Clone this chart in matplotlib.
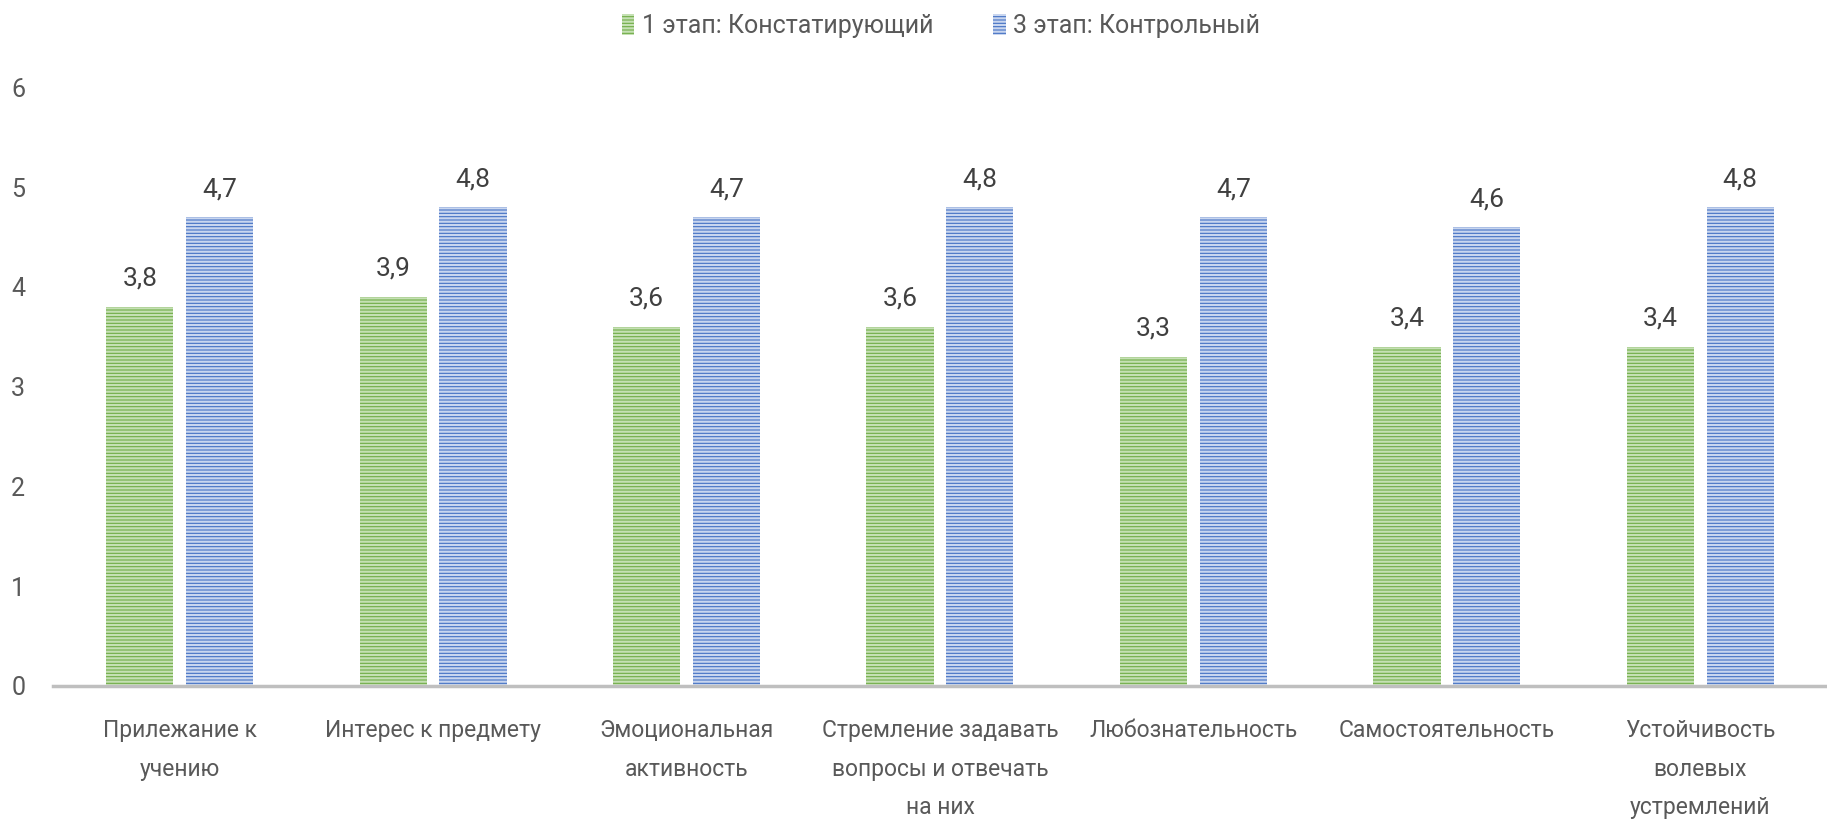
import matplotlib
matplotlib.use("Agg")
import matplotlib.pyplot as plt
import numpy as np

categories = ["Прилежание к\nучению", "Интерес к предмету", "Эмоциональная\nактивность",
              "Стремление задавать\nвопросы и отвечать\nна них", "Любознательность",
              "Самостоятельность", "Устойчивость\nволевых\nустремлений"]
stage1 = [3.8, 3.9, 3.6, 3.6, 3.3, 3.4, 3.4]
stage3 = [4.7, 4.8, 4.7, 4.8, 4.7, 4.6, 4.8]
series_names = ["1 этап: Констатирующий", "3 этап: Контрольный"]
yticks = [0, 1, 2, 3, 4, 5, 6]

plt.rcParams['font.family'] = ['Roboto', 'DejaVu Sans']
plt.rcParams['hatch.linewidth'] = 1.6

fig = plt.figure(figsize=(18.27, 8.24), dpi=100)
ax = fig.add_axes([0.029, 0.1675, 0.971, 0.7265])

x = np.arange(len(categories))
w = 0.265
gap = 0.05
off = (w + gap) / 2
txt = '#595959'

b1 = ax.bar(x - off, stage1, w, color='#70ad47', edgecolor='#c5e0b4', hatch='-----', linewidth=0,
            label=series_names[0])
b2 = ax.bar(x + off, stage3, w, color='#4472c4', edgecolor='#c9d6ef', hatch='-----', linewidth=0,
            label=series_names[1])

for bars in (b1, b2):
    for r in bars:
        h = r.get_height()
        ax.text(r.get_x() + r.get_width() / 2, h + 0.16, f"{h:.1f}".replace('.', ','),
                ha='center', va='bottom', fontsize=19, color='#404040')

ax.set_xlim(-0.5, len(categories) - 0.5)
ax.set_ylim(0, 6)
ax.set_yticks(yticks)
ax.set_yticklabels([str(t) for t in yticks], fontsize=18, color=txt)
ax.set_xticks(x)
ax.set_xticklabels(categories, fontsize=16.5, color=txt, linespacing=1.85)
ax.tick_params(axis='both', length=0)
ax.tick_params(axis='x', pad=24)
ax.tick_params(axis='y', pad=20)
for s in ['top', 'right', 'left']:
    ax.spines[s].set_visible(False)
ax.spines['bottom'].set_color('#bfbfbf')
ax.spines['bottom'].set_linewidth(2.5)

fig.legend(handles=[b1, b2], loc='center', bbox_to_anchor=(0.515, 0.968), ncol=2, frameon=False,
           fontsize=18, labelcolor=txt, handlelength=0.5, handleheight=0.9, handletextpad=0.3,
           columnspacing=2.4)

fig.savefig("out.png", dpi=100)
